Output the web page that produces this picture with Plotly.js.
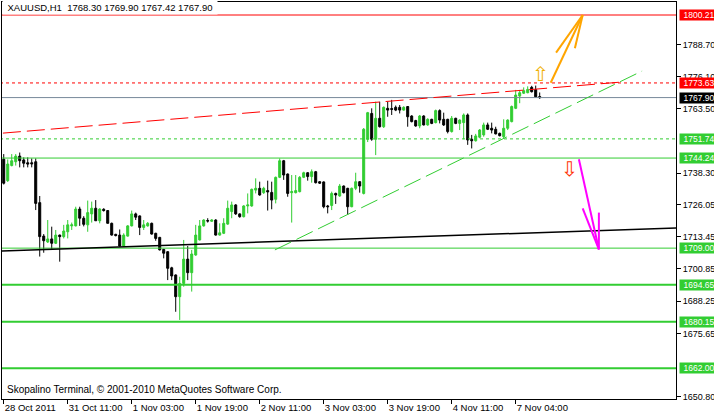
<!DOCTYPE html>
<html><head><meta charset="utf-8">
<script src="https://cdn.plot.ly/plotly-3.0.1.min.js"></script>
<style>html,body{margin:0;padding:0;background:#fff;overflow:hidden}#chart{width:714px;height:416px}</style>
</head><body><div id="chart"></div>
<script>
// ---- XAUUSD H1 candles (bar 0 = 28 Oct 2011 evening) ----
const opens = [1743.8,1735.4,1741.3,1742.8,1745.0,1743.5,1742.4,1742.4,1742.8,1726.8,
1713.7,1711.4,1712.6,1710.9,1714.1,1713.5,1715.4,1717.7,1717.7,1724.3,
1720.7,1718.1,1722.4,1724.6,1719.7,1724.2,1723.7,1718.7,1714.4,1714.1,
1709.8,1713.7,1717.7,1722.4,1721.6,1717.1,1717.7,1718.7,1714.8,1713.2,
1708.5,1707.6,1701.3,1698.5,1690.0,1695.2,1704.7,1699.4,1706.3,1712.2,
1717.7,1719.8,1719.5,1720.0,1714.1,1714.8,1718.4,1723.3,1725.9,1722.4,
1721.3,1725.5,1725.5,1731.7,1732.4,1730.7,1731.5,1730.8,1728.1,1736.7,
1743.2,1738.0,1730.7,1730.7,1731.1,1736.7,1738.5,1737.0,1738.9,1735.0,
1734.9,1725.5,1725.7,1730.4,1729.4,1733.3,1732.4,1725.2,1732.4,1735.0,
1730.4,1751.6,1761.7,1751.6,1759.8,1756.5,1763.7,1763.6,1764.1,1764.1,
1763.0,1764.4,1760.7,1758.9,1756.8,1760.7,1757.2,1759.4,1758.1,1762.8,
1759.4,1759.4,1754.6,1759.8,1757.8,1758.1,1761.1,1751.6,1751.0,1752.4,
1753.3,1757.2,1755.9,1755.5,1753.9,1752.6,1755.9,1758.5,1763.7,1768.5,
1769.6,1769.8,1771.9,1771.0,1768.30];
const highs = [1745.8,1743.7,1745.8,1745.8,1746.4,1744.5,1744.5,1744.1,1744.1,1729.4,
1714.5,1720.0,1717.4,1716.1,1714.3,1718.1,1720.0,1719.0,1725.2,1725.2,
1721.5,1727.6,1727.2,1727.8,1724.6,1724.6,1723.9,1719.0,1714.6,1716.3,
1714.8,1718.0,1723.7,1722.9,1721.8,1720.0,1719.2,1719.0,1715.0,1713.4,
1708.7,1707.8,1701.7,1698.7,1697.8,1712.2,1709.8,1708.3,1718.1,1720.0,
1720.3,1720.7,1720.3,1720.3,1718.7,1720.7,1727.6,1727.2,1726.2,1722.6,
1725.8,1730.4,1732.3,1736.3,1735.0,1733.0,1735.4,1735.0,1737.0,1744.1,
1743.5,1738.2,1737.6,1737.6,1737.2,1738.9,1738.7,1739.8,1739.2,1735.2,
1735.1,1725.9,1731.1,1730.7,1734.1,1733.5,1732.6,1732.7,1738.5,1735.2,
1756.0,1762.3,1763.7,1766.3,1766.3,1764.4,1766.3,1767.0,1764.8,1765.0,
1764.5,1764.6,1761.0,1759.2,1761.1,1761.0,1759.8,1759.6,1763.2,1763.3,
1762.0,1759.6,1760.7,1760.0,1759.4,1761.7,1761.7,1753.3,1753.7,1755.6,
1758.1,1758.1,1758.1,1756.5,1754.2,1759.4,1759.4,1764.8,1770.9,1770.9,
1771.9,1772.3,1772.5,1772.6,1769.90];
const lows = [1733.9,1734.9,1741.0,1741.3,1740.6,1740.6,1740.6,1740.6,1723.9,1705.7,
1707.2,1711.0,1708.5,1710.6,1703.7,1712.8,1712.8,1716.1,1717.5,1717.7,
1717.5,1715.4,1719.0,1719.7,1718.7,1723.3,1718.7,1713.9,1713.6,1709.6,
1709.6,1713.5,1717.5,1720.0,1714.1,1716.1,1717.4,1714.3,1711.9,1708.1,
1705.0,1696.5,1696.5,1684.1,1680.9,1693.9,1696.5,1692.0,1706.0,1712.0,
1717.4,1719.0,1719.3,1713.9,1713.9,1714.5,1718.1,1720.7,1722.0,1720.9,
1721.0,1722.6,1725.2,1730.4,1729.5,1730.2,1723.7,1724.2,1726.5,1736.4,
1735.7,1729.1,1719.0,1730.4,1730.8,1736.4,1735.4,1734.6,1734.3,1734.1,
1724.6,1722.6,1723.9,1726.3,1729.1,1730.4,1722.0,1725.0,1731.7,1730.7,
1730.0,1750.5,1751.0,1745.4,1756.2,1756.0,1760.4,1761.1,1762.6,1761.7,
1762.8,1756.5,1758.2,1756.5,1755.9,1757.0,1756.9,1757.5,1757.8,1757.8,
1756.8,1753.9,1754.2,1757.5,1755.2,1751.6,1749.4,1748.0,1750.7,1752.0,
1752.6,1755.2,1753.9,1753.5,1752.7,1752.0,1755.2,1758.2,1763.4,1765.7,
1769.3,1769.6,1769.9,1767.8,1767.42];
const closes = [1734.4,1741.9,1743.2,1745.0,1743.2,1742.2,1741.9,1742.0,1726.5,1713.5,
1711.9,1712.6,1710.9,1714.1,1713.5,1715.7,1718.1,1718.1,1724.3,1720.7,
1718.3,1722.9,1724.6,1719.7,1724.3,1723.7,1718.7,1714.1,1713.9,1709.8,
1714.1,1717.7,1722.4,1721.1,1717.1,1718.1,1718.7,1714.5,1712.8,1708.3,
1707.0,1701.1,1698.1,1690.0,1695.2,1704.7,1699.4,1706.7,1714.1,1717.7,
1720.0,1719.6,1720.0,1714.1,1715.0,1718.7,1724.6,1725.9,1722.4,1721.3,
1725.5,1725.9,1732.0,1732.4,1729.8,1732.4,1731.0,1727.8,1736.7,1743.2,
1737.6,1730.4,1731.1,1731.5,1736.7,1738.5,1737.0,1738.9,1734.6,1734.4,
1725.2,1725.2,1730.4,1729.8,1733.3,1730.7,1725.2,1732.4,1735.0,1733.3,
1755.5,1762.0,1751.6,1759.8,1756.5,1764.1,1763.0,1763.3,1763.0,1763.0,
1764.1,1760.4,1758.5,1756.8,1760.7,1757.2,1759.4,1757.8,1762.8,1759.1,
1757.2,1754.6,1759.8,1757.8,1759.1,1761.1,1751.3,1751.0,1752.9,1755.2,
1757.2,1755.5,1755.2,1753.7,1753.0,1755.9,1759.1,1764.4,1768.9,1769.8,
1770.6,1771.1,1770.2,1768.2,1767.90];

// time axis labels (every 16 bars)
const timeTickBars = [0,16,32,48,64,80,96,112,128];
const timeTickLabels = ['28 Oct 2011','31 Oct 11:00','1 Nov 03:00','1 Nov 19:00','2 Nov 11:00','3 Nov 03:00','3 Nov 19:00','4 Nov 11:00','7 Nov 04:00'];
// price scale labels (those hidden under level tags are left out)
const priceTicks = [1788.70,1776.10,1763.50,1738.30,1726.05,1713.45,1700.85,1688.25,1675.65,1650.80];
// horizontal levels
const levelPrices = [1800.21,1773.63,1767.90,1751.74,1744.24,1709.00,1694.65,1680.15,1662.00];
const levelKinds  = ['res','resDot','bid','supDot','sup','sup','supThick','supThick','supThick'];
// trend lines (bar index, price)
const redTrendBars = [-0.2,154.6],  redTrendPrices = [1754.0,1774.0];
const greenTrendBars = [67.8,159.6], greenTrendPrices = [1708.3,1778.3];
const blackTrendBars = [-0.5,168.2], blackTrendPrices = [1707.9,1716.9];
// forecast arrows
const upArrowBars = [136.75,144.75,null,138.1,144.75,null,142.8,144.75];
const upArrowPrices = [1773.7,1800.2,null,1785.5,1800.2,null,1787.2,1800.2];
const downArrowBars = [143.8,148.8,null,144.75,148.8,null,148.8,148.8];
const downArrowPrices = [1743.8,1708.5,null,1724.6,1708.5,null,1722.9,1708.5];
const upSignalBar = 134.3, upSignalPrice = 1777.3;
const downSignalBar = 141.4, downSignalPrice = 1739.8;
const symbolTitle = 'XAUUSD,H1\u00a0 1768.30 1769.90 1767.42 1767.90';
const footerText = 'Skopalino Terminal, \u00a9 2001-2010 MetaQuotes Software Corp.';

const GREEN = '#32CD32', RED = '#FF0000';
const styleOf = {
  res:      {color: RED, dash: 'solid', width: 1, bg: RED},
  resDot:   {color: RED, dash: '3px,3px', width: 1, bg: RED},
  bid:      {color: '#778899', dash: 'solid', width: 1, bg: '#000000'},
  supDot:   {color: GREEN, dash: '3px,3px', width: 1, bg: GREEN},
  sup:      {color: GREEN, dash: 'solid', width: 1, bg: GREEN},
  supThick: {color: GREEN, dash: 'solid', width: 2, bg: GREEN}
};

const bars = opens.map((_, i) => i);
const XR = [-0.43, 168.08];
const traces = [];
traces.push({
  type: 'candlestick', x: bars, open: opens, high: highs, low: lows, close: closes,
  increasing: {line: {color: GREEN, width: 1}, fillcolor: GREEN},
  decreasing: {line: {color: '#000000', width: 1}, fillcolor: '#000000'},
  whiskerwidth: 0, hoverinfo: 'skip', showlegend: false
});
levelPrices.forEach((p, i) => {
  const s = styleOf[levelKinds[i]];
  traces.push({type: 'scatter', mode: 'lines', x: [XR[0] - 5, XR[1] + 5], y: [p, p],
    line: {color: s.color, width: s.width, dash: s.dash}, hoverinfo: 'skip', showlegend: false});
});
traces.push({type: 'scatter', mode: 'lines', x: blackTrendBars, y: blackTrendPrices,
  line: {color: '#000000', width: 1.5}, hoverinfo: 'skip', showlegend: false});
traces.push({type: 'scatter', mode: 'lines', x: redTrendBars, y: redTrendPrices,
  line: {color: RED, width: 1, dash: '18px,6px'}, hoverinfo: 'skip', showlegend: false});
traces.push({type: 'scatter', mode: 'lines', x: greenTrendBars, y: greenTrendPrices,
  line: {color: GREEN, width: 1, dash: '18px,6px'}, hoverinfo: 'skip', showlegend: false});
traces.push({type: 'scatter', mode: 'lines', x: upArrowBars, y: upArrowPrices, connectgaps: false,
  line: {color: '#FFA500', width: 2}, hoverinfo: 'skip', showlegend: false});
traces.push({type: 'scatter', mode: 'lines', x: downArrowBars, y: downArrowPrices, connectgaps: false,
  line: {color: '#FF00FF', width: 2}, hoverinfo: 'skip', showlegend: false});

const FONT = 'Liberation Sans, Arial, sans-serif';
const annotations = [];
levelPrices.forEach((p, i) => {
  const s = styleOf[levelKinds[i]];
  annotations.push({xref: 'paper', x: 1, xanchor: 'left', xshift: 3, yref: 'y', y: p, yanchor: 'middle',
    text: p.toFixed(2), showarrow: false, bgcolor: s.bg, borderpad: 0, width: 38, height: 10, align: 'center',
    font: {family: FONT, size: 8.5, color: '#FFFFFF'}});
});
annotations.push({xref: 'paper', x: 0, xanchor: 'left', yref: 'paper', y: 1, yanchor: 'top', yshift: 2,
  text: symbolTitle, showarrow: false, bgcolor: '#FFFFFF', borderpad: 0, height: 13, xshift: 0, width: 214, align: 'center',
  font: {family: FONT, size: 9.5, color: '#000000'}});
annotations.push({xref: 'paper', x: 0, xanchor: 'left', xshift: 3, yref: 'paper', y: 0, yanchor: 'bottom', yshift: 2,
  text: footerText, showarrow: false, font: {family: FONT, size: 10, color: '#000000'}});
annotations.push({xref: 'x', x: upSignalBar, yref: 'y', y: upSignalPrice, text: '\u21e7', showarrow: false,
  font: {family: 'DejaVu Sans', size: 20, color: '#F0B000'}});
annotations.push({xref: 'x', x: downSignalBar, yref: 'y', y: downSignalPrice, text: '\u21e9', showarrow: false,
  font: {family: 'DejaVu Sans', size: 20, color: '#FF3000'}});

const layout = {
  width: 714, height: 416, margin: {l: 2, r: 38, t: 2, b: 17},
  paper_bgcolor: '#FFFFFF', plot_bgcolor: '#FFFFFF', showlegend: false, hovermode: false,
  boxgap: 0.5, boxgroupgap: 0,
  xaxis: {range: XR, rangeslider: {visible: false}, showgrid: false, zeroline: false,
    showline: true, linecolor: '#000000', linewidth: 1, mirror: true,
    tickmode: 'array', tickvals: timeTickBars, ticktext: timeTickLabels, tickangle: 0,
    ticks: 'outside', ticklen: 4, tickcolor: '#000000', ticklabelposition: 'outside right',
    tickfont: {family: FONT, size: 9.5, color: '#000000'}},
  yaxis: {range: [1649.97, 1805.30], side: 'right', showgrid: false, zeroline: false,
    showline: true, linecolor: '#000000', linewidth: 1, mirror: true,
    tickmode: 'array', tickvals: priceTicks, ticktext: priceTicks.map(v => v.toFixed(2)),
    ticks: 'outside', ticklen: 4, tickcolor: '#000000',
    tickfont: {family: FONT, size: 9, color: '#000000'}},
  annotations: annotations
};
Plotly.newPlot('chart', traces, layout, {displayModeBar: false, staticPlot: true});
</script></body></html>
